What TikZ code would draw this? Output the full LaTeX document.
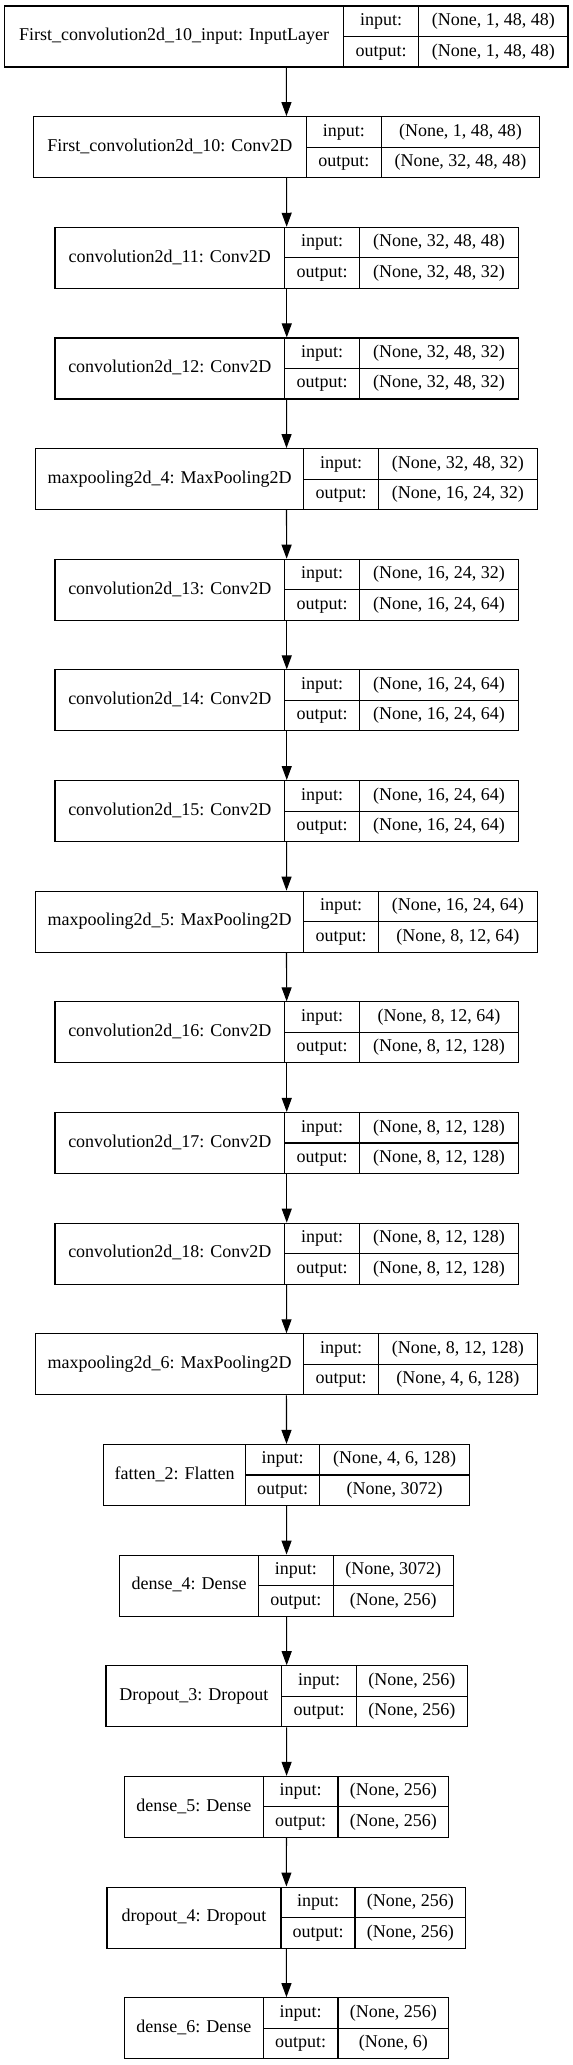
\documentclass[tikz,border=0pt]{standalone}
\usepackage{fontspec}
\setmainfont{Liberation Serif}
\usepackage{tikz}
\usetikzlibrary{arrows.meta}

\tikzset{
  layerbox/.style={draw=black, line width=1.1pt, rectangle, minimum height=61pt},
  celltext/.style={font=\fontsize{18}{20}\selectfont, text height=12.5pt, text depth=4pt},
  arr/.style={-{Triangle[length=14pt,width=10pt]}, line width=1.1pt}
}

% #1 name, #2 top, #3..#6 left edge, rules and right edge, #7 layer, #8 input, #9 output
\newcommand{\netlayer}[9]{
  \node[layerbox, minimum width={(#6-#3)*1pt}] (#1) at ({(#3+#6)/2},{-#2-30.5}) {};
  \draw[line width=1.1pt] (#4,-#2) -- (#4,{-#2-61}) (#5,-#2) -- (#5,{-#2-61})
    (#4,{-#2-30.5}) -- (#6,{-#2-30.5});
  \node[celltext] (#1t) at ({(#3+#4)/2},{-#2-30.5}) {#7};
  \node[celltext] (#1i) at ({(#4+#5)/2},{-#2-15.25}) {input:};
  \node[celltext] (#1o) at ({(#4+#5)/2},{-#2-45.75}) {output:};
  \node[celltext] (#1a) at ({(#5+#6)/2},{-#2-15.25}) {#8};
  \node[celltext] (#1b) at ({(#5+#6)/2},{-#2-45.75}) {#9};
}

\begin{document}
\begin{tikzpicture}[x=1pt,y=1pt]
\tikzstyle{every node}+=[inner sep=0pt]
\useasboundingbox (0,0) rectangle (573,-2065);
\netlayer{L0}{6}{4.7}{343.7}{418.7}{568}{First\_convolution2d\_10\_input: InputLayer}{(None, 1, 48, 48)}{(None, 1, 48, 48)}
\netlayer{L1}{116.65}{33.3}{306.3}{381.3}{539.7}{First\_convolution2d\_10: Conv2D}{(None, 1, 48, 48)}{(None, 32, 48, 48)}
\netlayer{L2}{227.3}{55}{284.5}{359.5}{518.5}{convolution2d\_11: Conv2D}{(None, 32, 48, 48)}{(None, 32, 48, 32)}
\netlayer{L3}{337.95}{55}{284.5}{359.5}{518.5}{convolution2d\_12: Conv2D}{(None, 32, 48, 32)}{(None, 32, 48, 32)}
\netlayer{L4}{448.6}{35.5}{303.7}{378.3}{537.3}{maxpooling2d\_4: MaxPooling2D}{(None, 32, 48, 32)}{(None, 16, 24, 32)}
\netlayer{L5}{559.25}{55}{284.5}{359.5}{518.5}{convolution2d\_13: Conv2D}{(None, 16, 24, 32)}{(None, 16, 24, 64)}
\netlayer{L6}{669.9}{55}{284.5}{359.5}{518.5}{convolution2d\_14: Conv2D}{(None, 16, 24, 64)}{(None, 16, 24, 64)}
\netlayer{L7}{780.55}{55}{284.5}{359.5}{518.5}{convolution2d\_15: Conv2D}{(None, 16, 24, 64)}{(None, 16, 24, 64)}
\netlayer{L8}{891.2}{35.5}{303.7}{378.3}{537.3}{maxpooling2d\_5: MaxPooling2D}{(None, 16, 24, 64)}{(None, 8, 12, 64)}
\netlayer{L9}{1001.85}{55}{284.5}{359.5}{518.5}{convolution2d\_16: Conv2D}{(None, 8, 12, 64)}{(None, 8, 12, 128)}
\netlayer{L10}{1112.5}{55}{284.5}{359.5}{518.5}{convolution2d\_17: Conv2D}{(None, 8, 12, 128)}{(None, 8, 12, 128)}
\netlayer{L11}{1223.15}{55}{284.5}{359.5}{518.5}{convolution2d\_18: Conv2D}{(None, 8, 12, 128)}{(None, 8, 12, 128)}
\netlayer{L12}{1333.8}{35.5}{303.7}{378.3}{537.3}{maxpooling2d\_6: MaxPooling2D}{(None, 8, 12, 128)}{(None, 4, 6, 128)}
\netlayer{L13}{1444.45}{103.8}{245.3}{319.8}{469.3}{fatten\_2: Flatten}{(None, 4, 6, 128)}{(None, 3072)}
\netlayer{L14}{1555.1}{119.9}{258.4}{333.3}{453.2}{dense\_4: Dense}{(None, 3072)}{(None, 256)}
\netlayer{L15}{1665.75}{106}{281.8}{356.4}{467.5}{Dropout\_3: Dropout}{(None, 256)}{(None, 256)}
\netlayer{L16}{1776.4}{124.3}{263.3}{338}{448.7}{dense\_5: Dense}{(None, 256)}{(None, 256)}
\netlayer{L17}{1887.05}{107}{281}{355}{465.7}{dropout\_4: Dropout}{(None, 256)}{(None, 256)}
\netlayer{L18}{1997.7}{124.3}{263.3}{338}{448.7}{dense\_6: Dense}{(None, 256)}{(None, 6)}
\draw[arr] (L0) -- (L1);
\draw[arr] (L1) -- (L2);
\draw[arr] (L2) -- (L3);
\draw[arr] (L3) -- (L4);
\draw[arr] (L4) -- (L5);
\draw[arr] (L5) -- (L6);
\draw[arr] (L6) -- (L7);
\draw[arr] (L7) -- (L8);
\draw[arr] (L8) -- (L9);
\draw[arr] (L9) -- (L10);
\draw[arr] (L10) -- (L11);
\draw[arr] (L11) -- (L12);
\draw[arr] (L12) -- (L13);
\draw[arr] (L13) -- (L14);
\draw[arr] (L14) -- (L15);
\draw[arr] (L15) -- (L16);
\draw[arr] (L16) -- (L17);
\draw[arr] (L17) -- (L18);
\end{tikzpicture}
\end{document}
